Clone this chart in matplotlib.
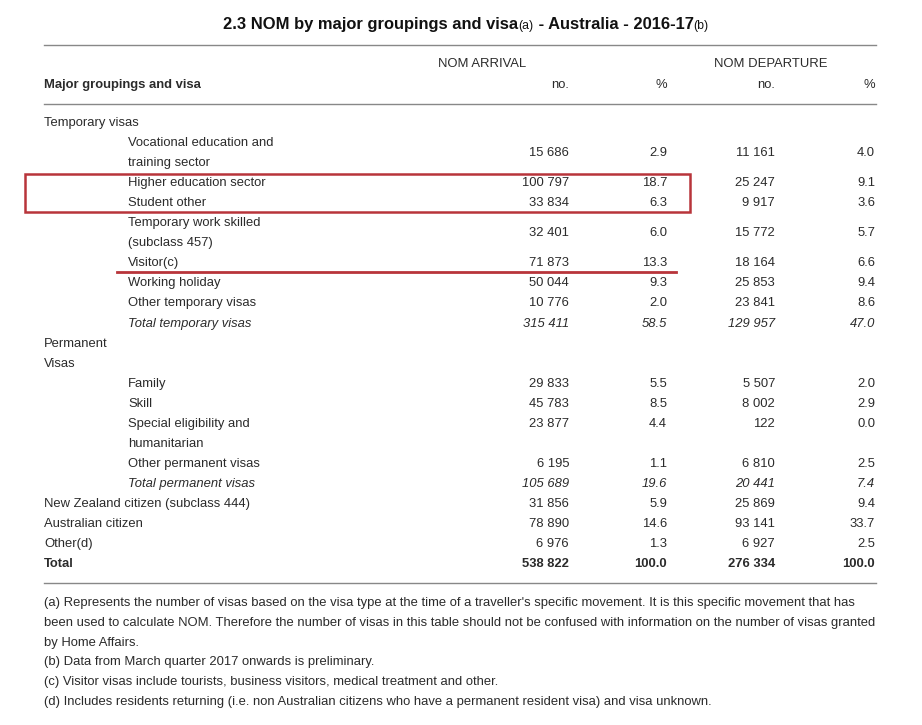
import matplotlib
matplotlib.use("Agg")
import matplotlib.pyplot as plt
from matplotlib.patches import Rectangle

# ---- datos de la tabla ----
labels = [
    "Temporary visas",
    "Vocational education and\ntraining sector",
    "Higher education sector",
    "Student other",
    "Temporary work skilled\n(subclass 457)",
    "Visitor(c)",
    "Working holiday",
    "Other temporary visas",
    "Total temporary visas",
    "Permanent\nVisas",
    "Family",
    "Skill",
    "Special eligibility and\nhumanitarian",
    "Other permanent visas",
    "Total permanent visas",
    "New Zealand citizen (subclass 444)",
    "Australian citizen",
    "Other(d)",
    "Total",
]
indent = [0, 1, 1, 1, 1, 1, 1, 1, 1, 0, 1, 1, 1, 1, 1, 0, 0, 0, 0]
estilo = ["normal"] * 8 + ["italic"] + ["normal"] * 5 + ["italic"] + ["normal"] * 3 + ["bold"]

arrival_no = [None, 15686, 100797, 33834, 32401, 71873, 50044, 10776, 315411,
              None, 29833, 45783, 23877, 6195, 105689, 31856, 78890, 6976, 538822]
arrival_pct = [None, 2.9, 18.7, 6.3, 6.0, 13.3, 9.3, 2.0, 58.5,
               None, 5.5, 8.5, 4.4, 1.1, 19.6, 5.9, 14.6, 1.3, 100.0]
departure_no = [None, 11161, 25247, 9917, 15772, 18164, 25853, 23841, 129957,
                None, 5507, 8002, 122, 6810, 20441, 25869, 93141, 6927, 276334]
departure_pct = [None, 4.0, 9.1, 3.6, 5.7, 6.6, 9.4, 8.6, 47.0,
                 None, 2.0, 2.9, 0.0, 2.5, 7.4, 9.4, 33.7, 2.5, 100.0]

# filas cuyos valores van en la primera linea (no centrados)
valores_arriba = {"Special eligibility and\nhumanitarian"}

notas = [
    "(a) Represents the number of visas based on the visa type at the time of a traveller's specific movement. It is this specific movement that has",
    "been used to calculate NOM. Therefore the number of visas in this table should not be confused with information on the number of visas granted",
    "by Home Affairs.",
    "(b) Data from March quarter 2017 onwards is preliminary.",
    "(c) Visitor visas include tourists, business visitors, medical treatment and other.",
    "(d) Includes residents returning (i.e. non Australian citizens who have a permanent resident visa) and visa unknown.",
]

TXT = "#2b2b2b"
ROJO = "#b8343a"
FS = 9.4
plt.rcParams["font.family"] = ["Liberation Sans", "DejaVu Sans"]

fig = plt.figure(figsize=(9.22, 7.25), dpi=100)
ax = fig.add_axes([0, 0, 1, 1])
ax.set_xlim(0, 922)
ax.set_ylim(725, 0)
ax.axis("off")

# titulo en trozos (las notas (a) y (b) mas pequeñas)
renderer = fig.canvas.get_renderer()
partes = [("2.3 NOM by major groupings and visa", 11.9, "bold"), ("(a)", 8.8, "normal"),
          (" - Australia - 2016-17", 11.9, "bold"), ("(b)", 8.8, "normal")]
anchos = []
for txt, fs, fw in partes:
    t = ax.text(0, 0, txt, fontsize=fs, fontweight=fw)
    anchos.append(t.get_window_extent(renderer).width)
    t.remove()
x = 466 - sum(anchos) / 2
for (txt, fs, fw), w in zip(partes, anchos):
    ax.text(x, 29, txt, fontsize=fs, fontweight=fw, color="#111111", va="baseline")
    x += w

col_x = [569, 667, 775, 875]
ax.plot([44, 876], [45, 45], color="#888888", lw=1)
ax.text(482, 64, "NOM ARRIVAL", fontsize=FS, color=TXT, ha="center", va="center")
ax.text(771, 64, "NOM DEPARTURE", fontsize=FS, color=TXT, ha="center", va="center")
ax.text(44, 85, "Major groupings and visa", fontsize=FS, color=TXT, fontweight="bold", va="center")
for cx, h in zip(col_x, ["no.", "%", "no.", "%"]):
    ax.text(cx, 85, h, fontsize=FS, color=TXT, ha="right", va="center")
ax.plot([44, 876], [104, 104], color="#888888", lw=1)

def fmt_no(v):
    return f"{v:,}".replace(",", " ")

paso = 20.05
y = 123
for i, lab in enumerate(labels):
    lineas = lab.split("\n")
    n = len(lineas)
    st = "italic" if estilo[i] == "italic" else "normal"
    fw = "bold" if estilo[i] == "bold" else "normal"
    xl = 128 if indent[i] else 44
    for k, ln in enumerate(lineas):
        ax.text(xl, y + k * paso, ln, fontsize=FS, color=TXT, style=st,
                fontweight=fw, va="center")
    if arrival_no[i] is not None:
        yv = y if lab in valores_arriba else y + (n - 1) * paso / 2
        vals = [fmt_no(arrival_no[i]), f"{arrival_pct[i]:.1f}",
                fmt_no(departure_no[i]), f"{departure_pct[i]:.1f}"]
        for cx, v in zip(col_x, vals):
            ax.text(cx, yv, v, fontsize=FS, color=TXT, style=st, fontweight=fw,
                    ha="right", va="center")
    y += n * paso

ax.plot([44, 876], [583, 583], color="#888888", lw=1)

for k, nota in enumerate(notas):
    ax.text(44, 603 + k * 19.8, nota, fontsize=FS, color=TXT, va="center")

# marcas en rojo
ax.add_patch(Rectangle((25, 174), 665, 38, fill=False, edgecolor=ROJO, lw=1.8))
ax.plot([117, 676], [272, 272], color=ROJO, lw=2)

fig.savefig("out.png", dpi=100, facecolor="white")
